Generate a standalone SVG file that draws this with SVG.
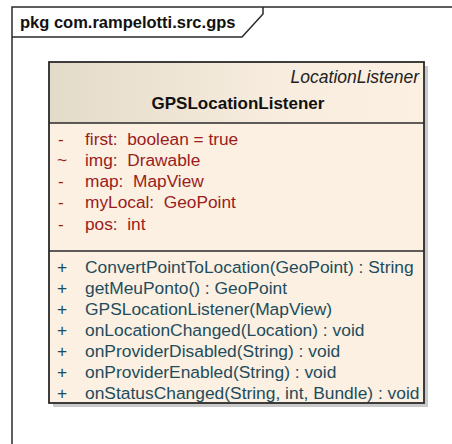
<svg xmlns="http://www.w3.org/2000/svg" width="452" height="444" viewBox="0 0 452 444">
<defs>
<linearGradient id="hdr" x1="0" y1="0" x2="1" y2="0">
<stop offset="0" stop-color="#e3dbca"/>
<stop offset="0.6" stop-color="#f7ecdd"/>
<stop offset="1" stop-color="#fbf0e2"/>
</linearGradient>
<style>
text{font-family:"Liberation Sans",Arial,sans-serif;font-size:17px}
.pkg{font-weight:bold;font-size:16.5px;fill:#111}
.title{font-weight:bold;fill:#111}
.stereo{font-style:italic;fill:#222;font-size:17.5px}
.attr text{fill:#9a1c1c;font-size:17.3px}
.meth text{fill:#1e4c5c;font-size:17.4px}
.frame{fill:none;stroke:#2a2a2a;stroke-width:1.5}
</style>
</defs>
<rect width="452" height="444" fill="#ffffff"/>
<g id="package">
<path class="frame" d="M12,444 V7 H452"/>
<path class="frame" d="M12,37 H242 L263,14 V7"/>
<text class="pkg" x="20" y="28">pkg com.rampelotti.src.gps</text>
</g>
<g id="GPSLocationListener">
<rect x="53" y="66" width="375" height="341" fill="#c9c9c9"/>
<rect x="49" y="62" width="375" height="341" fill="#fbf0e2"/>
<rect x="49" y="62" width="375" height="61" fill="url(#hdr)"/>
<rect x="49" y="62" width="375" height="341" fill="none" stroke="#2a2a2a" stroke-width="1.8"/>
<line x1="49" y1="123" x2="424" y2="123" stroke="#2a2a2a" stroke-width="1.5"/>
<line x1="49" y1="251" x2="424" y2="251" stroke="#2a2a2a" stroke-width="1.5"/>
<text class="stereo" x="419" y="83" text-anchor="end">LocationListener</text>
<text class="title" x="238" y="109" text-anchor="middle">GPSLocationListener</text>
<g class="attr">
<text x="58" y="145">-</text><text x="85" y="145" xml:space="preserve">first:  boolean = true</text>
<text x="57" y="166">~</text><text x="85" y="166" xml:space="preserve">img:  Drawable</text>
<text x="58" y="187">-</text><text x="85" y="187" xml:space="preserve">map:  MapView</text>
<text x="58" y="208">-</text><text x="85" y="208" xml:space="preserve">myLocal:  GeoPoint</text>
<text x="58" y="230">-</text><text x="85" y="230" xml:space="preserve">pos:  int</text>
</g>
<g class="meth">
<text x="57" y="273">+</text><text x="85" y="273">ConvertPointToLocation(GeoPoint) : String</text>
<text x="57" y="294">+</text><text x="85" y="294">getMeuPonto() : GeoPoint</text>
<text x="57" y="315">+</text><text x="85" y="315">GPSLocationListener(MapView)</text>
<text x="57" y="336">+</text><text x="85" y="336">onLocationChanged(Location) : void</text>
<text x="57" y="357">+</text><text x="85" y="357">onProviderDisabled(String) : void</text>
<text x="57" y="378">+</text><text x="85" y="378">onProviderEnabled(String) : void</text>
<text x="57" y="399">+</text><text x="85" y="399">onStatusChanged(String, int, Bundle) : void</text>
</g>
</g>
</svg>
